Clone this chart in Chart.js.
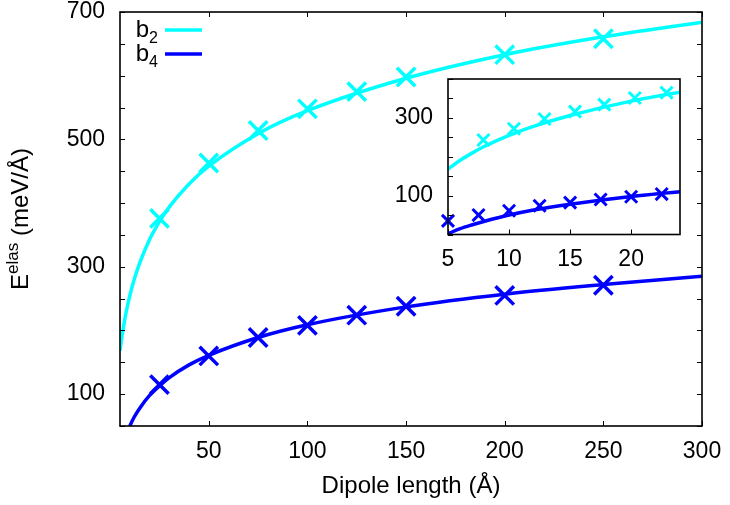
<!DOCTYPE html>
<html><head><meta charset="utf-8">
<script src="https://cdn.jsdelivr.net/npm/chart.js@4.4.1/dist/chart.umd.min.js"></script>
<style>
html,body{margin:0;padding:0;background:#fff;}
#wrap{position:relative;width:730px;height:505px;overflow:hidden;}
#main{position:absolute;left:0;top:0;}
#inset{position:absolute;left:380px;top:68px;}
</style></head><body>
<div id="wrap">
<canvas id="main" width="730" height="505"></canvas>
<canvas id="inset" width="320" height="212"></canvas>
</div>
<script>
// ---- data ----
const mainMarkX = [25, 50, 75, 100, 125, 150, 200, 250];
const mainB2 = [376, 463, 514, 548, 575, 598, 633, 658];
const mainB4 = [115, 160, 189, 208, 224, 238, 255, 271];
const fitX  = [5, 6, 7, 8, 10, 12, 15, 20, 25, 30, 40, 50, 75, 100, 150, 200, 250, 300];
const fitB2 = [168, 191, 210, 227, 255, 278, 306, 343, 371, 394, 430, 458, 509, 545, 596, 633, 661, 684];
const fitB4 = [2, 15, 25, 34, 50, 63, 78, 98, 113, 126, 146, 161, 189, 209, 237, 257, 272, 285];
const insetB2X = [7.9, 10.4, 12.9, 15.4, 17.8, 20.3, 22.9];
const insetB2 = [243, 272, 297, 316, 334, 351, 365];
const insetB4X = [5, 7.5, 10, 12.5, 15, 17.5, 20, 22.5];
const insetB4 = [35, 50, 61, 74, 82, 90, 97, 104];
// ticks
const mainXTicks = [50, 100, 150, 200, 250, 300];
const mainYTicks = [50, 100, 150, 200, 250, 300, 350, 400, 450, 500, 550, 600, 650, 700];
const mainYLabels = [100, 300, 500, 700];
const insetXTicks = [5, 10, 15, 20];
const insetYTicks = [0, 50, 100, 150, 200, 250, 300, 350, 400];
const insetYLabels = [100, 300];
const seriesNames = ['b', 'b'];
const seriesSubs = ['2', '4'];
const xTitle = 'Dipole length (Å)';
const yTitleMain = 'E', yTitleSup = 'elas', yTitleRest = ' (meV/Å)';

const CYAN = '#00ffff', BLUE = '#0000ff';
const FONT = "'Liberation Sans', Arial, sans-serif";

const pts = (xs, ys) => xs.map((x, i) => ({x, y: ys[i]}));
const noPad = s => { s.paddingTop = 0; s.paddingBottom = 0; s.paddingLeft = 0; s.paddingRight = 0; };

function frameTicks(mirror, len) {
  return {
    id: 'frameTicks',
    afterDatasetsDraw(chart) {
      const {ctx, chartArea: a, scales: {x, y}} = chart;
      ctx.save();
      ctx.strokeStyle = '#000';
      ctx.lineWidth = 1;
      ctx.beginPath();
      for (const t of x.ticks) {
        const px = Math.round(x.getPixelForValue(t.value)) + 0.5;
        ctx.moveTo(px, a.bottom); ctx.lineTo(px, a.bottom - len);
        if (mirror) { ctx.moveTo(px, a.top); ctx.lineTo(px, a.top + len); }
      }
      for (const t of y.ticks) {
        const py = Math.round(y.getPixelForValue(t.value)) + 0.5;
        ctx.moveTo(a.left, py); ctx.lineTo(a.left + len, py);
        if (mirror) { ctx.moveTo(a.right, py); ctx.lineTo(a.right - len, py); }
      }
      ctx.stroke();
      ctx.lineWidth = 1.6;
      ctx.strokeRect(a.left, a.top, a.right - a.left, a.bottom - a.top);
      ctx.restore();
    }
  };
}

const annotPlugin = {
  id: 'annot',
  afterDraw(chart) {
    const {ctx, chartArea: a} = chart;
    ctx.save();
    ctx.fillStyle = '#000';
    // y title
    ctx.translate(28, (a.top + a.bottom) / 2);
    ctx.rotate(-Math.PI / 2);
    const big = '24px ' + FONT, small = '17px ' + FONT;
    ctx.font = big; const w1 = ctx.measureText(yTitleMain).width;
    const w3 = ctx.measureText(yTitleRest).width;
    ctx.font = small; const w2 = ctx.measureText(yTitleSup).width;
    let sx = -(w1 + w2 + w3) / 2;
    ctx.textBaseline = 'alphabetic';
    ctx.font = big; ctx.fillText(yTitleMain, sx, 0); sx += w1;
    ctx.font = small; ctx.fillText(yTitleSup, sx, -10); sx += w2;
    ctx.font = big; ctx.fillText(yTitleRest, sx, 0);
    ctx.restore();
    // legend
    ctx.save();
    const colors = [CYAN, BLUE];
    const ys = [30, 54];
    for (let i = 0; i < 2; i++) {
      ctx.font = '16px ' + FONT;
      const ws = ctx.measureText(seriesSubs[i]).width;
      ctx.textBaseline = 'alphabetic';
      ctx.textAlign = 'left';
      ctx.fillStyle = '#000';
      const right = 158;
      ctx.fillText(seriesSubs[i], right - ws, ys[i] + 13);
      ctx.font = '24px ' + FONT;
      const wb = ctx.measureText(seriesNames[i]).width;
      ctx.fillText(seriesNames[i], right - ws - wb, ys[i] + 7);
      ctx.strokeStyle = colors[i];
      ctx.lineWidth = 3.5;
      ctx.beginPath(); ctx.moveTo(165, ys[i]); ctx.lineTo(202, ys[i]); ctx.stroke();
    }
    ctx.restore();
  }
};

function lineDs(data, color) {
  return {type: 'line', data, borderColor: color, borderWidth: 3.5, pointRadius: 0, pointHoverRadius: 0,
          showLine: true, fill: false, tension: 0.4, cubicInterpolationMode: 'monotone'};
}
function markDs(data, color, r, w) {
  return {type: 'scatter', data, borderColor: color, backgroundColor: color, pointStyle: 'crossRot',
          pointRadius: r, pointHoverRadius: r, pointBorderWidth: w, showLine: false, clip: false};
}

const tickFont = {family: FONT, size: 23, lineHeight: 1};

new Chart(document.getElementById('main'), {
  type: 'scatter',
  data: {datasets: [
    lineDs(pts(fitX, fitB2), CYAN),
    lineDs(pts(fitX, fitB4), BLUE),
    markDs(pts(mainMarkX, mainB2), CYAN, 13, 3.5),
    markDs(pts(mainMarkX, mainB4), BLUE, 13, 3.5)
  ]},
  options: {
    responsive: false, animation: false, devicePixelRatio: 1,
    layout: {autoPadding: false, padding: {top: 12, right: 28, left: 0, bottom: 0}},
    plugins: {legend: {display: false}, tooltip: {enabled: false}},
    scales: {
      x: {type: 'linear', min: 5, max: 300,
          afterBuildTicks: s => { s.ticks = mainXTicks.map(v => ({value: v})); },
          afterFit: s => { s.height = 79; noPad(s); },
          grid: {display: false, drawTicks: false}, border: {display: false},
          ticks: {font: tickFont, color: '#000', padding: 14, maxRotation: 0, autoSkip: false},
          title: {display: true, text: xTitle, color: '#000', font: {family: FONT, size: 24, lineHeight: 1}, padding: {top: 0, bottom: 7}}},
      y: {type: 'linear', min: 50, max: 700,
          afterBuildTicks: s => { s.ticks = mainYTicks.map(v => ({value: v})); },
          afterFit: s => { s.width = 120; noPad(s); },
          grid: {display: false, drawTicks: false}, border: {display: false},
          ticks: {font: tickFont, color: '#000', padding: 15, autoSkip: false,
                  callback: v => mainYLabels.includes(v) ? String(v) : ''}}
    }
  },
  plugins: [frameTicks(true, 5), annotPlugin]
});

new Chart(document.getElementById('inset'), {
  type: 'scatter',
  data: {datasets: [
    lineDs(pts(fitX, fitB2), CYAN),
    lineDs(pts(fitX, fitB4), BLUE),
    markDs(pts(insetB2X, insetB2), CYAN, 8.5, 3),
    markDs(pts(insetB4X, insetB4), BLUE, 8.5, 3)
  ]},
  options: {
    responsive: false, animation: false, devicePixelRatio: 1,
    layout: {autoPadding: false, padding: {top: 11, right: 20, left: 0, bottom: 0}},
    plugins: {legend: {display: false}, tooltip: {enabled: false}},
    scales: {
      x: {type: 'linear', min: 5, max: 24,
          afterBuildTicks: s => { s.ticks = insetXTicks.map(v => ({value: v})); },
          afterFit: s => { s.height = 45.5; noPad(s); },
          grid: {display: false, drawTicks: false}, border: {display: false},
          ticks: {font: tickFont, color: '#000', padding: 14, maxRotation: 0, autoSkip: false}},
      y: {type: 'linear', min: 0, max: 400,
          afterBuildTicks: s => { s.ticks = insetYTicks.map(v => ({value: v})); },
          afterFit: s => { s.width = 68; noPad(s); },
          grid: {display: false, drawTicks: false}, border: {display: false},
          ticks: {font: tickFont, color: '#000', padding: 15, autoSkip: false,
                  callback: v => insetYLabels.includes(v) ? String(v) : ''}}
    }
  },
  plugins: [frameTicks(false, 5)]
});
</script>
</body></html>
